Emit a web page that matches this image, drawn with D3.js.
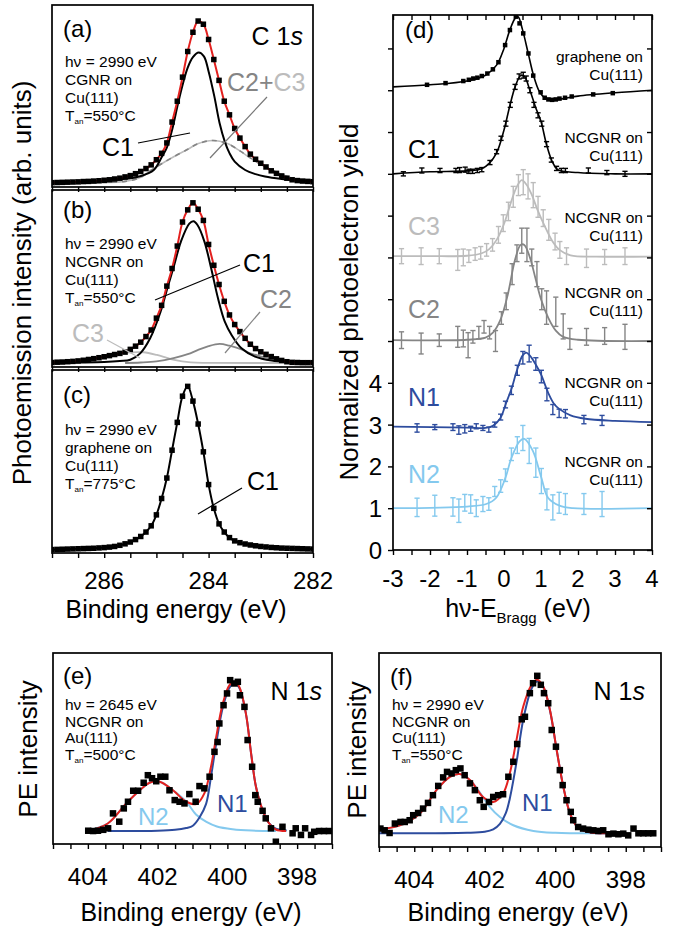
<!DOCTYPE html>
<html>
<head>
<meta charset="utf-8">
<script src="https://cdn.jsdelivr.net/npm/d3@7"></script>
<style>
  body { margin: 0; background: #fff; }
  svg text { font-family: "Liberation Sans", Arial, Helvetica, sans-serif; }
</style>
</head>
<body>
<svg id="fig" width="673" height="931"></svg>
<script>
// ---------- data ----------
// C 1s spectra, binding energy grid (eV)
const cEnergy = [287.0,286.9,286.8,286.7,286.6,286.5,286.4,286.3,286.2,286.1,286.0,285.9,285.8,285.7,285.6,285.5,285.4,285.3,285.2,285.1,285.0,284.9,284.8,284.7,284.6,284.5,284.4,284.3,284.2,284.1,284.0,283.9,283.8,283.7,283.6,283.5,283.4,283.3,283.2,283.1,283.0,282.9,282.8,282.7,282.6,282.5,282.4,282.3,282.2,282.1,282.0];
const dataA = [0.2,0.3,0.4,0.5,0.6,0.7,0.9,1.0,1.2,1.4,1.7,2.0,2.5,3.0,3.8,4.6,5.8,7.2,9.0,11.3,14.5,18.5,25,38,51,66,82,94,101,99,89.5,77,64,51,42.5,34,28,22.7,18,14.8,12.3,10,7.6,6,4.4,3,2,1.5,1.2,1.0,0.8];
const dataB = [0.3,0.5,0.6,0.8,1.0,1.3,1.7,2.2,2.7,3.3,3.9,4.6,5.3,6.0,6.8,8.5,10.5,13,16.5,20.6,28,36,48,59,73,88,95.6,100,96,89,74,61,49,38.5,30,24,19.6,15.4,11.7,9,7,5.4,4,2.6,1.6,0.8,0.4,0.3,0.2,0.2,0.2];
const dataC = [0.3,0.4,0.5,0.6,0.7,0.8,0.9,1.0,1.1,1.3,1.5,1.8,2.2,2.9,3.8,4.9,6.4,8.3,11,14.8,21.5,31.5,44,61,78,94,100,91,77,60,40,25.5,16,11,7.6,5.6,4.5,3.7,3.1,2.6,2.2,1.9,1.6,1.4,1.2,1.1,1.0,0.9,0.8,0.7,0.6];

// fit components [eV, intensity]
const fitA_C1 = [[287,0.3],[286.5,0.6],[286,1.3],[285.6,2.6],[285.31,4.2],[285.05,8.1],[284.9,16],[284.8,22],[284.7,33],[284.6,47.5],[284.5,61],[284.4,72],[284.3,78.5],[284.19,81.4],[284.09,79],[284.0,69.6],[283.89,54],[283.79,37.4],[283.69,25.8],[283.6,18.6],[283.5,13.3],[283.3,8.1],[283.1,5.5],[282.92,4],[282.6,2.5],[282.3,1.6],[282,1.1]];
const fitA_C23 = [[287,0.1],[286,0.3],[285.6,1],[285.3,3.5],[285.1,8],[284.9,12],[284.66,16.5],[284.4,21],[284.21,24.4],[283.92,26.5],[283.63,24.4],[283.4,20],[283.24,16.5],[283,11.5],[282.72,7],[282.45,3.5],[282.2,1.5],[282,0.8]];
const fitB_C1 = [[287,0.1],[286.5,0.3],[286,0.6],[285.7,1.2],[285.5,2],[285.31,6],[285.12,15.4],[284.92,32],[284.79,46.7],[284.66,61],[284.53,75.8],[284.37,87],[284.29,88.5],[284.21,86],[284.08,75.8],[283.95,59],[283.82,40.4],[283.69,25.8],[283.56,17.5],[283.37,9.2],[283.11,4],[282.79,1.5],[282.4,0.6],[282,0.3]];
const fitB_C2 = [[285.6,0],[285.3,0.3],[285,1],[284.67,3],[284.4,5.5],[284.21,8],[284,10.5],[283.79,11.9],[283.6,10.8],[283.37,8.5],[283.2,6],[282.98,4],[282.7,2],[282.46,1],[282,0.3]];
const fitB_C3 = [[287,0.2],[286.6,0.6],[286.3,1.8],[285.96,4.6],[285.57,6.5],[285.25,6.7],[284.99,5],[284.8,3.2],[284.66,1.9],[284.34,0.4],[284,0.1],[282,0]];

// (d) normalized photoelectron yield vs hv - E_Bragg
const dGraphene = [[-2.08,11.13],[-1.58,11.17],[-1.1,11.22],[-0.95,11.25],[-0.83,11.28],[-0.72,11.3],[-0.6,11.34],[-0.45,11.4],[-0.3,11.5],[-0.15,11.67],[0.03,12.08],[0.16,12.44],[0.32,12.76],[0.42,12.6],[0.52,12.36],[0.66,11.88],[0.79,11.35],[0.99,10.95],[1.1,10.82],[1.2,10.78],[1.3,10.77],[1.4,10.78],[1.5,10.8],[1.65,10.82],[1.83,10.85],[2.41,10.9],[2.94,10.93]];
const dGrapheneFit = [[-3,11.08],[-2,11.13],[-1,11.22],[-0.5,11.36],[-0.2,11.6],[0,12.0],[0.15,12.42],[0.3,12.72],[0.38,12.76],[0.5,12.45],[0.65,11.9],[0.8,11.35],[0.95,10.98],[1.1,10.82],[1.3,10.77],[1.6,10.8],[2,10.86],[3,10.94],[4,11.0]];
const dC1 = [[-2.72,9.0,0.05],[-2.22,9.08,0.06],[-1.73,9.08,0.05],[-1.3,9.08,0.05],[-1.2,9.09,0.06],[-1.05,9.1,0.06],[-0.95,9.06,0.05],[-0.85,9.06,0.05],[-0.72,9.08,0.05],[-0.6,9.1,0.05],[-0.38,9.27,0.05],[-0.2,9.53,0.05],[-0.08,9.85,0.05],[0.05,10.2,0.06],[0.17,10.65,0.06],[0.3,11.08,0.06],[0.41,11.33,0.06],[0.52,11.36,0.07],[0.6,11.28,0.06],[0.7,11.0,0.06],[0.81,10.65,0.06],[0.92,10.4,0.06],[1.02,10.2,0.06],[1.15,9.71,0.06],[1.28,9.33,0.05],[1.42,9.13,0.05],[1.55,9.08,0.05],[1.66,9.08,0.05],[2.28,9.08,0.06],[2.78,9.03,0.05],[3.27,9.0,0.06]];
const dC1Fit = [[-3,9.0],[-2,9.05],[-1,9.07],[-0.6,9.12],[-0.4,9.25],[-0.2,9.5],[0,10.05],[0.15,10.6],[0.3,11.08],[0.45,11.35],[0.55,11.33],[0.7,11.0],[0.85,10.6],[1.0,10.25],[1.15,9.7],[1.3,9.3],[1.45,9.1],[2,9.03],[3,9.0],[4,9.0]];
const dC3 = [[-2.77,7.03,0.18],[-2.24,7.03,0.2],[-1.75,7.03,0.18],[-1.25,6.94,0.25],[-1.1,7.0,0.2],[-0.95,7.03,0.15],[-0.78,7.08,0.15],[-0.63,7.11,0.15],[-0.47,7.18,0.15],[-0.31,7.3,0.15],[-0.15,7.54,0.2],[-0.02,7.82,0.2],[0.12,8.1,0.22],[0.25,8.45,0.25],[0.39,8.73,0.25],[0.52,8.8,0.3],[0.65,8.7,0.3],[0.79,8.49,0.3],[0.92,8.21,0.25],[1.06,7.94,0.2],[1.21,7.66,0.25],[1.38,7.38,0.2],[1.51,7.18,0.2],[1.69,7.03,0.2],[2.23,6.98,0.22],[2.72,7.01,0.18],[3.27,7.03,0.2]];
const dC3Fit = [[-3,7.03],[-2,7.03],[-1,7.04],[-0.6,7.1],[-0.4,7.2],[-0.2,7.42],[0,7.8],[0.2,8.35],[0.35,8.7],[0.48,8.85],[0.6,8.75],[0.75,8.5],[0.9,8.15],[1.1,7.75],[1.3,7.4],[1.5,7.18],[1.8,7.05],[2.5,7.02],[4,7.02]];
const dC2 = [[-2.77,5.02,0.2],[-2.24,4.94,0.25],[-1.75,5.02,0.15],[-1.25,5.1,0.25],[-1.1,5.06,0.2],[-0.97,4.9,0.3],[-0.84,5.1,0.15],[-0.68,5.2,0.15],[-0.54,5.34,0.15],[-0.39,5.2,0.15],[-0.23,5.0,0.25],[-0.07,5.55,0.15],[0.06,5.95,0.2],[0.22,6.6,0.25],[0.35,7.1,0.2],[0.48,7.4,0.3],[0.62,7.3,0.4],[0.75,7.0,0.2],[0.89,6.6,0.3],[1.02,6.0,0.25],[1.15,5.8,0.4],[1.4,5.7,0.35],[1.6,5.35,0.3],[1.78,5.05,0.25],[2.23,5.1,0.2],[2.72,5.12,0.2],[3.27,5.1,0.3]];
const dC2Fit = [[-3,5.02],[-1,5.03],[-0.5,5.08],[-0.3,5.2],[-0.1,5.5],[0.1,6.1],[0.3,6.95],[0.45,7.3],[0.55,7.3],[0.7,7.0],[0.85,6.5],[1.0,6.0],[1.2,5.55],[1.4,5.25],[1.6,5.1],[2.0,5.03],[4,5.0]];
const dN1 = [[-2.35,2.92,0.1],[-1.87,2.94,0.06],[-1.38,2.94,0.08],[-1.22,2.87,0.1],[-1.06,2.9,0.1],[-0.9,2.9,0.06],[-0.75,2.96,0.06],[-0.57,2.92,0.06],[-0.41,2.88,0.06],[-0.25,3.0,0.06],[-0.09,3.18,0.07],[0.04,3.48,0.08],[0.2,3.82,0.1],[0.36,4.3,0.12],[0.51,4.6,0.15],[0.68,4.7,0.2],[0.86,4.45,0.15],[1.01,4.15,0.15],[1.16,3.72,0.15],[1.32,3.36,0.12],[1.49,3.27,0.1],[1.66,3.26,0.1],[2.16,3.12,0.1],[2.65,3.1,0.12]];
const dN1Fit = [[-3,2.95],[-1,2.93],[-0.5,2.92],[-0.3,2.97],[-0.1,3.15],[0.05,3.5],[0.2,3.85],[0.35,4.3],[0.5,4.65],[0.6,4.72],[0.7,4.65],[0.85,4.45],[1.0,4.2],[1.2,3.75],[1.35,3.5],[1.5,3.37],[1.8,3.22],[2.2,3.14],[3,3.09],[4,3.06]];
const dN2 = [[-2.35,1.02,0.22],[-1.87,1.06,0.25],[-1.38,1.03,0.22],[-1.22,0.94,0.28],[-1.06,1.13,0.2],[-0.9,1.1,0.22],[-0.75,1.0,0.2],[-0.57,1.1,0.18],[-0.41,1.1,0.15],[-0.25,1.4,0.12],[-0.09,1.53,0.15],[0.04,1.79,0.15],[0.2,2.29,0.15],[0.36,2.51,0.2],[0.51,2.68,0.3],[0.68,2.37,0.3],[0.86,2.09,0.35],[1.01,1.65,0.3],[1.16,1.21,0.25],[1.32,1.02,0.3],[1.49,1.13,0.25],[1.66,1.1,0.25],[2.16,1.1,0.25],[2.65,1.1,0.3]];
const dN2Fit = [[-3,1.0],[-1,1.04],[-0.48,1.1],[-0.21,1.25],[0.04,1.73],[0.2,2.2],[0.42,2.6],[0.55,2.66],[0.78,2.37],[1.01,1.73],[1.19,1.25],[1.5,1.06],[1.86,1.0],[4,1.0]];

// N 1s spectra [eV, intensity]
const dataE = [[403.99,0.2],[403.85,0],[403.71,0.2],[403.56,0.8],[403.42,1.8],[403.28,11.7],[403.1,6.2],[402.97,15],[402.85,19.4],[402.7,26.7],[402.56,26.7],[402.4,32],[402.28,37],[402.16,35],[402.04,33],[401.92,36],[401.78,36],[401.66,27],[401.51,20.5],[401.37,19.4],[401.23,18.3],[401.09,24.5],[400.91,19.4],[400.8,29.8],[400.66,28.3],[400.51,36],[400.37,52.5],[400.28,59],[400.23,71.3],[400.11,83.4],[400.01,91.2],[399.92,100],[399.8,97.8],[399.7,98.9],[399.64,90],[399.51,82.3],[399.42,60.3],[399.29,42.6],[399.2,23.8],[399.13,19.4],[398.99,13.4],[398.9,8.4],[398.75,1.8],[398.61,-7.1],[398.42,2.8],[398.13,-1.5],[398.04,1.8],[397.89,-2.6],[397.77,1.8],[397.6,-2.6],[397.51,-0.5],[397.37,0],[397.23,0],[397.09,0]];
const fitE = [[404,0],[403.43,5],[402.9,18.3],[402.51,27],[402.23,32],[401.94,32.7],[401.56,27],[401.18,19.4],[400.89,17.9],[400.66,25],[400.47,42.6],[400.32,62.4],[400.13,84.6],[399.94,96.7],[399.8,98.9],[399.66,95.6],[399.47,78],[399.32,51.5],[399.18,29.3],[398.99,13.9],[398.8,5],[398.61,1],[398.32,0]];
const fitE_N1 = [[403.43,0],[402,0.2],[401.5,0.8],[401.18,2],[400.99,3.5],[400.8,9],[400.61,18],[400.47,36],[400.32,58],[400.13,82],[399.94,95],[399.8,98],[399.66,95],[399.47,78],[399.32,51.5],[399.18,29.3],[398.99,13.9],[398.8,5],[398.61,1.5],[398.3,0.3]];
const fitE_N2 = [[404,0.5],[403.43,5],[402.9,18.3],[402.51,27],[402.23,32],[401.94,32.7],[401.56,27],[401.18,19.5],[400.9,11],[400.6,6],[400.3,3],[399.85,1.2],[399.3,0.3],[398.6,0]];
const dataF = [[404.96,3],[404.84,1.9],[404.7,0.2],[404.55,6.2],[404.39,7.2],[404.27,7.2],[404.13,8.3],[404.03,11.5],[403.89,12.9],[403.75,15.7],[403.61,19.3],[403.47,24.2],[403.32,30.1],[403.18,35.5],[403.07,39],[402.94,38],[402.82,40.1],[402.69,41.2],[402.57,36.9],[402.42,31.7],[402.28,27.4],[402.14,21],[402.03,16.8],[401.88,19.9],[401.76,23.1],[401.62,24.2],[401.48,24.8],[401.33,35.9],[401.19,45.4],[401.08,56.7],[400.95,72.4],[400.86,74],[400.72,89],[400.63,95.3],[400.51,100],[400.41,94.3],[400.32,89],[400.2,82.6],[400.1,65.6],[399.98,55],[399.87,40.1],[399.79,30.6],[399.68,21],[399.56,13.6],[399.49,8.3],[399.35,4],[399.21,3],[399.06,2.3],[398.92,1.9],[398.78,1.5],[398.64,1.9],[398.49,-0.6],[398.35,-0.2],[398.21,-0.6],[398.07,-0.2],[397.93,-1.3],[397.78,3],[397.64,0],[397.5,0],[397.36,0],[397.22,0]];
const fitF = [[405,2.5],[404.41,5],[403.84,12.5],[403.37,27.4],[402.99,35.9],[402.71,37.6],[402.42,33.8],[402.05,23.1],[401.76,19.9],[401.48,25.3],[401.29,38],[401.1,59.2],[400.91,80.4],[400.67,94.3],[400.51,97.5],[400.34,93.2],[400.15,78.3],[399.96,52.9],[399.77,29.5],[399.58,12.5],[399.39,4.5],[399.06,0.8],[398.5,0]];
const fitF_N1 = [[405,0],[402.5,0.3],[402,1],[401.76,2.5],[401.57,6],[401.4,13],[401.29,22],[401.1,45],[400.91,72],[400.67,92],[400.51,96.5],[400.34,93],[400.15,78],[399.96,53],[399.77,29.5],[399.58,12.5],[399.39,4.5],[399.06,0.8],[398.5,0]];
const fitF_N2 = [[405,2.5],[404.41,5],[403.84,12.5],[403.37,27.4],[402.99,35.9],[402.71,37.6],[402.42,33.8],[402.05,23],[401.86,16.8],[401.57,10.4],[401.19,5.1],[400.62,1.5],[400,0.3],[398.5,0]];

// tick values
const cTicks = [287,286.5,286,285.5,285,284.5,284,283.5,283,282.5,282];
const cTickLabels = [286,284,282];
const dXTicks = [-3,-2.5,-2,-1.5,-1,-0.5,0,0.5,1,1.5,2,2.5,3,3.5,4];
const dXLabels = [-3,-2,-1,0,1,2,3,4];
const dYTicks = [0,1,2,3,4,5,6,7,8,9,10,11,12];
const dYLabels = [0,1,2,3,4];
const nTicks = [405,404.5,404,403.5,403,402.5,402,401.5,401,400.5,400,399.5,399,398.5,398,397.5,397];
const nTickLabels = [404,402,400,398];

// ---------- drawing ----------
const RED = "#e3211f", DARKBLUE = "#2d4c9e", LIGHTBLUE = "#84c9ee", GREY = "#858585", LIGHTGREY = "#bcbcbc";
const svg = d3.select("#fig");

function panel(cfg) {
  const x = d3.scaleLinear().domain(cfg.xDom).range([cfg.x0, cfg.x1]);
  const y = d3.scaleLinear().domain(cfg.yDom).range([cfg.y1, cfg.y0]);
  const id = "clip-" + cfg.id;
  svg.append("clipPath").attr("id", id).append("rect")
    .attr("x", cfg.x0).attr("y", cfg.y0)
    .attr("width", cfg.x1 - cfg.x0).attr("height", cfg.y1 - cfg.y0);
  const g = svg.append("g");
  const plot = g.append("g").attr("clip-path", `url(#${id})`);
  return { x, y, g, plot, cfg };
}

function line(p, pts, color, w, dash) {
  const gen = d3.line().x(d => p.x(d[0])).y(d => p.y(d[1])).curve(d3.curveCatmullRom.alpha(0.5));
  const path = p.plot.append("path").attr("d", gen(pts)).attr("fill", "none")
    .attr("stroke", color).attr("stroke-width", w).attr("stroke-linejoin", "round");
  if (dash) path.attr("stroke-dasharray", dash);
}

function squares(p, pts, s) {
  p.plot.selectAll(null).data(pts).join("rect")
    .attr("x", d => p.x(d[0]) - s / 2).attr("y", d => p.y(d[1]) - s / 2)
    .attr("width", s).attr("height", s).attr("fill", "#000");
}

function errbars(p, pts, color) {
  const g = p.plot.append("g").attr("stroke", color).attr("stroke-width", 1.4);
  pts.forEach(d => {
    const cx = p.x(d[0]), t = p.y(d[1] + d[2]), b = p.y(d[1] - d[2]);
    g.append("line").attr("x1", cx).attr("x2", cx).attr("y1", t).attr("y2", b);
    g.append("line").attr("x1", cx - 2.6).attr("x2", cx + 2.6).attr("y1", t).attr("y2", t);
    g.append("line").attr("x1", cx - 2.6).attr("x2", cx + 2.6).attr("y1", b).attr("y2", b);
  });
}

function frame(p) {
  const c = p.cfg;
  p.g.append("rect").attr("x", c.x0).attr("y", c.y0)
    .attr("width", c.x1 - c.x0).attr("height", c.y1 - c.y0)
    .attr("fill", "none").attr("stroke", "#000").attr("stroke-width", 1.7);
}

function ticks(p, axis, at) {
  p.g.append("g").attr("transform", at).call(axis)
    .call(s => s.select(".domain").remove())
    .call(s => s.selectAll("line").attr("stroke-width", 1.4));
}

function tickLabels(p, vals, yBase, size, fmt) {
  p.g.selectAll(null).data(vals).join("text")
    .attr("x", d => p.x(d)).attr("y", yBase).attr("text-anchor", "middle")
    .attr("font-size", size).text(fmt || (d => d));
}

// rich text: parts = [{t, sub, it, fill}]
function rich(x, y, parts, o) {
  o = o || {};
  const size = o.size || 16;
  const t = svg.append("text").attr("x", x).attr("y", y)
    .attr("font-size", size).attr("fill", o.color || "#000")
    .attr("text-anchor", o.anchor || "start");
  if (o.rotate) t.attr("transform", `rotate(-90,${x},${y})`);
  let shift = 0;
  parts.forEach(p => {
    if (typeof p === "string") p = { t: p };
    const ts = t.append("tspan").text(p.t);
    if (p.sub) {
      const dy = p.dy || size * 0.25;
      ts.attr("font-size", p.size || size * 0.55).attr("dy", dy);
      shift = dy;
    } else if (shift) {
      ts.attr("dy", -shift);
      shift = 0;
    }
    if (p.it) ts.attr("font-style", "italic");
    if (p.fill) ts.attr("fill", p.fill);
  });
  return t;
}

function leader(x1, y1, x2, y2, color) {
  svg.append("line").attr("x1", x1).attr("y1", y1).attr("x2", x2).attr("y2", y2)
    .attr("stroke", color || "#000").attr("stroke-width", 1.2);
}

function infoBlock(x, y0, lines, size, gap) {
  lines.forEach((l, i) => rich(x, y0 + i * gap, l, { size }));
}

const TAN = (v) => ["T", { t: "an", sub: true, size: 8, dy: 3 }, "=" + v + "°C"];

// ----- (a) -----
const pa = panel({ id: "a", xDom: [287, 282], yDom: [-2.5, 111], x0: 52, x1: 313, y0: 5, y1: 187 });
line(pa, fitA_C23, LIGHTGREY, 1.6);
line(pa, fitA_C23, GREY, 1.6, "5,5");
line(pa, fitA_C1, "#000", 2);
line(pa, cEnergy.map((e, i) => [e, dataA[i]]), RED, 2);
squares(pa, cEnergy.map((e, i) => [e, dataA[i]]), 5.5);
ticks(pa, d3.axisBottom(pa.x).tickValues(cTicks).tickSize(5).tickFormat(""), "translate(0,187)");
frame(pa);

// ----- (b) -----
const pb = panel({ id: "b", xDom: [287, 282], yDom: [-2.5, 108], x0: 52, x1: 313, y0: 190, y1: 367 });
line(pb, fitB_C3, LIGHTGREY, 1.8);
line(pb, fitB_C2, GREY, 1.8);
line(pb, fitB_C1, "#000", 2);
line(pb, cEnergy.map((e, i) => [e, dataB[i]]), RED, 2);
squares(pb, cEnergy.map((e, i) => [e, dataB[i]]), 5.5);
ticks(pb, d3.axisBottom(pb.x).tickValues(cTicks).tickSize(5).tickFormat(""), "translate(0,367)");
frame(pb);

// ----- (c) -----
const pc = panel({ id: "c", xDom: [287, 282], yDom: [-1.8, 110], x0: 52, x1: 313, y0: 370, y1: 553 });
line(pc, cEnergy.map((e, i) => [e, dataC[i]]), "#000", 2);
squares(pc, cEnergy.map((e, i) => [e, dataC[i]]), 5.5);
ticks(pc, d3.axisBottom(pc.x).tickValues(cTicks).tickSize(5).tickFormat(""), "translate(0,553)");
frame(pc);
tickLabels(pc, cTickLabels, 589, 24);

// ----- (d) -----
const pd = panel({ id: "d", xDom: [-3, 4], yDom: [0, 12.8], x0: 393, x1: 652, y0: 15, y1: 550 });
line(pd, dGrapheneFit, "#000", 1.6);
squares(pd, dGraphene, 4.5);
line(pd, dC1Fit, "#000", 1.6);
errbars(pd, dC1, "#000");
line(pd, dC3Fit, LIGHTGREY, 1.8);
errbars(pd, dC3, LIGHTGREY);
line(pd, dC2Fit, GREY, 1.8);
errbars(pd, dC2, GREY);
line(pd, dN1Fit, DARKBLUE, 1.8);
errbars(pd, dN1, DARKBLUE);
line(pd, dN2Fit, LIGHTBLUE, 1.8);
errbars(pd, dN2, LIGHTBLUE);
ticks(pd, d3.axisBottom(pd.x).tickValues(dXTicks).tickSize(5).tickFormat(""), "translate(0,550)");
ticks(pd, d3.axisTop(pd.x).tickValues(dXTicks).tickSize(-5).tickFormat(""), "translate(0,15)");
ticks(pd, d3.axisLeft(pd.y).tickValues(dYTicks).tickSize(5).tickFormat(""), "translate(393,0)");
ticks(pd, d3.axisRight(pd.y).tickValues(dYTicks).tickSize(-5).tickFormat(""), "translate(652,0)");
frame(pd);
tickLabels(pd, dXLabels, 587, 24, d => d < 0 ? "-" + Math.abs(d) : d);
pd.g.selectAll(null).data(dYLabels).join("text")
  .attr("x", 382).attr("y", d => pd.y(d) + 9).attr("text-anchor", "end")
  .attr("font-size", 24).text(d => d);

// ----- (e) -----
const pe = panel({ id: "e", xDom: [405, 397], yDom: [-8.6, 118], x0: 53, x1: 332, y0: 653, y1: 844 });
line(pe, fitE_N2, LIGHTBLUE, 2);
line(pe, fitE_N1, DARKBLUE, 2);
line(pe, fitE, RED, 2);
squares(pe, dataE, 6.5);
ticks(pe, d3.axisBottom(pe.x).tickValues(nTicks).tickSize(5).tickFormat(""), "translate(0,844)");
frame(pe);
tickLabels(pe, nTickLabels, 885, 24);

// ----- (f) -----
const pf = panel({ id: "f", xDom: [405, 397], yDom: [-8.7, 114.5], x0: 379, x1: 661, y0: 653, y1: 847 });
line(pf, fitF_N2, LIGHTBLUE, 2);
line(pf, fitF_N1, DARKBLUE, 2);
line(pf, fitF, RED, 2);
squares(pf, dataF, 6.5);
ticks(pf, d3.axisBottom(pf.x).tickValues(nTicks).tickSize(5).tickFormat(""), "translate(0,847)");
frame(pf);
tickLabels(pf, nTickLabels, 888, 24);

// ---------- annotations ----------
const SMALL = 15.5;
// (a)
rich(63, 37, ["(a)"], { size: 24 });
rich(303, 45, ["C 1", { t: "s", it: true }], { size: 25, anchor: "end" });
infoBlock(65, 67, [["hν = 2990 eV"], ["CGNR on"], ["Cu(111)"], TAN(550)], SMALL, 18);
rich(102, 156, ["C1"], { size: 25 });
leader(138, 143, 190, 133);
rich(227, 91, [{ t: "C2+", fill: GREY }, { t: "C3", fill: LIGHTGREY }], { size: 25 });
leader(210, 158, 267, 97, "#777");
// (b)
rich(63, 218, ["(b)"], { size: 24 });
infoBlock(65, 249, [["hν = 2990 eV"], ["NCGNR on"], ["Cu(111)"], TAN(550)], SMALL, 18);
rich(243, 272, ["C1"], { size: 25 });
leader(155, 300, 240, 265);
rich(260, 308, ["C2"], { size: 25, color: GREY });
leader(225, 353, 260, 312, GREY);
rich(72, 342, ["C3"], { size: 25, color: LIGHTGREY });
leader(107, 340, 140, 358, LIGHTGREY);
// (c)
rich(63, 403, ["(c)"], { size: 24 });
infoBlock(65, 435, [["hν = 2990 eV"], ["graphene on"], ["Cu(111)"], TAN(775)], SMALL, 18);
rich(247, 490, ["C1"], { size: 25 });
leader(198, 514, 242, 488);
// (d)
rich(405, 38, ["(d)"], { size: 24 });
[[62, "graphene on"], [143, "NCGNR on"], [223, "NCGNR on"], [298, "NCGNR on"], [388, "NCGNR on"], [467, "NCGNR on"]]
  .forEach(([yb, s]) => {
    rich(643, yb, [s], { size: SMALL, anchor: "end" });
    rich(643, yb + 18, ["Cu(111)"], { size: SMALL, anchor: "end" });
  });
rich(408, 158, ["C1"], { size: 25 });
rich(408, 235, ["C3"], { size: 25, color: LIGHTGREY });
rich(408, 318, ["C2"], { size: 25, color: GREY });
rich(408, 406, ["N1"], { size: 25, color: DARKBLUE });
rich(408, 483, ["N2"], { size: 25, color: LIGHTBLUE });
// (e)
rich(63, 684, ["(e)"], { size: 24 });
rich(322, 700, ["N 1", { t: "s", it: true }], { size: 25, anchor: "end" });
infoBlock(65, 710, [["hν = 2645 eV"], ["NCGNR on"], ["Au(111)"], TAN(500)], SMALL, 16.7);
rich(138, 825, ["N2"], { size: 24, color: LIGHTBLUE });
rich(217, 812, ["N1"], { size: 24, color: DARKBLUE });
// (f)
rich(390, 685, ["(f)"], { size: 24 });
rich(645, 700, ["N 1", { t: "s", it: true }], { size: 25, anchor: "end" });
infoBlock(392, 710, [["hν = 2990 eV"], ["NCGNR on"], ["Cu(111)"], TAN(550)], SMALL, 16.7);
rich(438, 823, ["N2"], { size: 24, color: LIGHTBLUE });
rich(522, 811, ["N1"], { size: 24, color: DARKBLUE });

// axis titles
rich(31, 283, ["Photoemission intensity (arb. units)"], { size: 26, anchor: "middle", rotate: true });
rich(176, 618, ["Binding energy (eV)"], { size: 25, anchor: "middle" });
rich(358, 302, ["Normalized photoelectron yield"], { size: 26, anchor: "middle", rotate: true });
rich(518, 617, ["hν-E", { t: "Bragg", sub: true, size: 15, dy: 6 }, " (eV)"], { size: 25, anchor: "middle" });
rich(37, 749, ["PE intensity"], { size: 26, anchor: "middle", rotate: true });
rich(191, 921, ["Binding energy (eV)"], { size: 25, anchor: "middle" });
rich(366, 750, ["PE intensity"], { size: 26, anchor: "middle", rotate: true });
rich(518, 921, ["Binding energy (eV)"], { size: 25, anchor: "middle" });
</script>
</body>
</html>
